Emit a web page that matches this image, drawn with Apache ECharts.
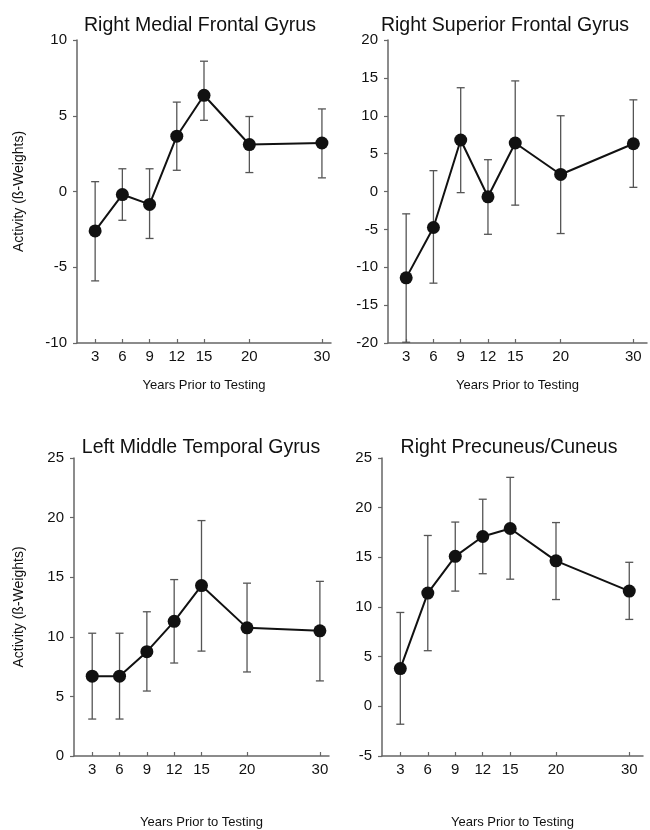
<!DOCTYPE html>
<html><head><meta charset="utf-8">
<script src="https://cdn.jsdelivr.net/npm/echarts@6/dist/echarts.min.js"></script>
<style>html,body{margin:0;padding:0;background:#fff}#c{width:650px;height:830px}</style>
</head><body><div id="c"></div>
<script>
const xYears = [3, 6, 9, 12, 15, 20, 30];
const xPos = [3, 6, 9, 12, 15, 20, 28];

const titles = ['Right Medial Frontal Gyrus', 'Right Superior Frontal Gyrus', 'Left Middle Temporal Gyrus', 'Right Precuneus/Cuneus'];

const mfgMean = [-2.6, -0.2, -0.85, 3.65, 6.35, 3.1, 3.2];
const mfgLow  = [-5.9, -1.9, -3.1, 1.4, 4.7, 1.25, 0.9];
const mfgHigh = [0.65, 1.5, 1.5, 5.9, 8.6, 4.95, 5.45];

const sfgMean = [-11.4, -4.75, 6.8, -0.7, 6.4, 2.25, 6.3];
const sfgLow  = [-19.9, -12.1, -0.15, -5.65, -1.8, -5.55, 0.55];
const sfgHigh = [-2.95, 2.75, 13.7, 4.2, 14.6, 10.0, 12.1];

const mtgMean = [6.7, 6.7, 8.75, 11.3, 14.3, 10.75, 10.5];
const mtgLow  = [3.1, 3.1, 5.45, 7.8, 8.8, 7.05, 6.3];
const mtgHigh = [10.3, 10.3, 12.1, 14.8, 19.75, 14.5, 14.65];

const pcMean = [3.8, 11.4, 15.1, 17.1, 17.9, 14.65, 11.6];
const pcLow  = [-1.8, 5.6, 11.6, 13.35, 12.8, 10.75, 8.75];
const pcHigh = [9.45, 17.2, 18.55, 20.85, 23.05, 18.5, 14.5];

const yMins = [-10, -20, 0, -5];
const yMaxs = [10, 20, 25, 25];

const panels = [
  {mean: mfgMean, low: mfgLow, high: mfgHigh},
  {mean: sfgMean, low: sfgLow, high: sfgHigh},
  {mean: mtgMean, low: mtgLow, high: mtgHigh},
  {mean: pcMean, low: pcLow, high: pcHigh}
];

const FONT = '"Liberation Sans", Arial, sans-serif';
const grids = [
  {left: 77, top: 40, width: 254, height: 303},
  {left: 388, top: 40, width: 259, height: 303},
  {left: 74, top: 458, width: 255, height: 300},
  {left: 382, top: 458, width: 261, height: 300}
];
const xMaxs = [29, 29.5, 29, 29.5];
const xNameGaps = [36, 36, 60, 60];
const titlePos = [[195, 11], [500, 11], [196, 433], [504, 433]];

const option = {
  animation: false,
  backgroundColor: '#fff',
  textStyle: {fontFamily: FONT},
  title: titles.map((t, i) => ({
    text: t, left: titlePos[i][0], top: titlePos[i][1], textAlign: 'center',
    textStyle: {fontFamily: FONT, fontSize: 19.5, fontWeight: 'normal', color: '#111'}
  })),
  grid: grids,
  xAxis: grids.map((g, i) => ({
    type: 'value', gridIndex: i, min: 1, max: xMaxs[i],
    name: 'Years Prior to Testing', nameLocation: 'middle', nameGap: xNameGaps[i],
    nameTextStyle: {fontFamily: FONT, fontSize: 13, color: '#111'},
    axisLine: {onZero: false, lineStyle: {color: '#666', width: 1.5}},
    axisTick: {show: true, inside: true, length: 4, customValues: xPos, lineStyle: {color: '#666', width: 1.2}},
    axisLabel: {customValues: xPos, margin: 6, fontSize: 15, color: '#111', fontFamily: FONT,
      formatter: v => { const k = xPos.indexOf(v); return k >= 0 ? String(xYears[k]) : ''; }},
    splitLine: {show: false}
  })),
  yAxis: grids.map((g, i) => ({
    type: 'value', gridIndex: i, min: yMins[i], max: yMaxs[i], interval: 5,
    name: (i % 2 === 0) ? 'Activity (ß-Weights)' : '', nameLocation: 'middle', nameGap: i === 0 ? 51 : 48,
    nameTextStyle: {fontFamily: FONT, fontSize: 14, color: '#111'},
    axisLine: {show: true, onZero: false, lineStyle: {color: '#666', width: 1.5}},
    axisTick: {show: true, length: 4, lineStyle: {color: '#666', width: 1.2}},
    axisLabel: {margin: 10, fontSize: 15, color: '#111', fontFamily: FONT},
    splitLine: {show: false}
  })),
  series: []
};

panels.forEach((p, i) => {
  option.series.push({
    type: 'custom', xAxisIndex: i, yAxisIndex: i, z: 2,
    data: xPos.map((x, k) => [x, p.low[k], p.high[k]]),
    renderItem: (params, api) => {
      const top = api.coord([api.value(0), api.value(2)]);
      const bot = api.coord([api.value(0), api.value(1)]);
      const hw = 4;
      const st = {stroke: '#555', lineWidth: 1.3};
      return {type: 'group', children: [
        {type: 'line', shape: {x1: top[0], y1: top[1], x2: bot[0], y2: bot[1]}, style: st},
        {type: 'line', shape: {x1: top[0] - hw, y1: top[1], x2: top[0] + hw, y2: top[1]}, style: st},
        {type: 'line', shape: {x1: bot[0] - hw, y1: bot[1], x2: bot[0] + hw, y2: bot[1]}, style: st}
      ]};
    }
  });
  option.series.push({
    type: 'line', xAxisIndex: i, yAxisIndex: i, z: 3,
    data: xPos.map((x, k) => [x, p.mean[k]]),
    symbol: 'circle', symbolSize: 13, showSymbol: true,
    lineStyle: {color: '#111', width: 2},
    itemStyle: {color: '#111'}
  });
});

const chart = echarts.init(document.getElementById('c'), null, {renderer: 'canvas'});
chart.setOption(option);
</script></body></html>
